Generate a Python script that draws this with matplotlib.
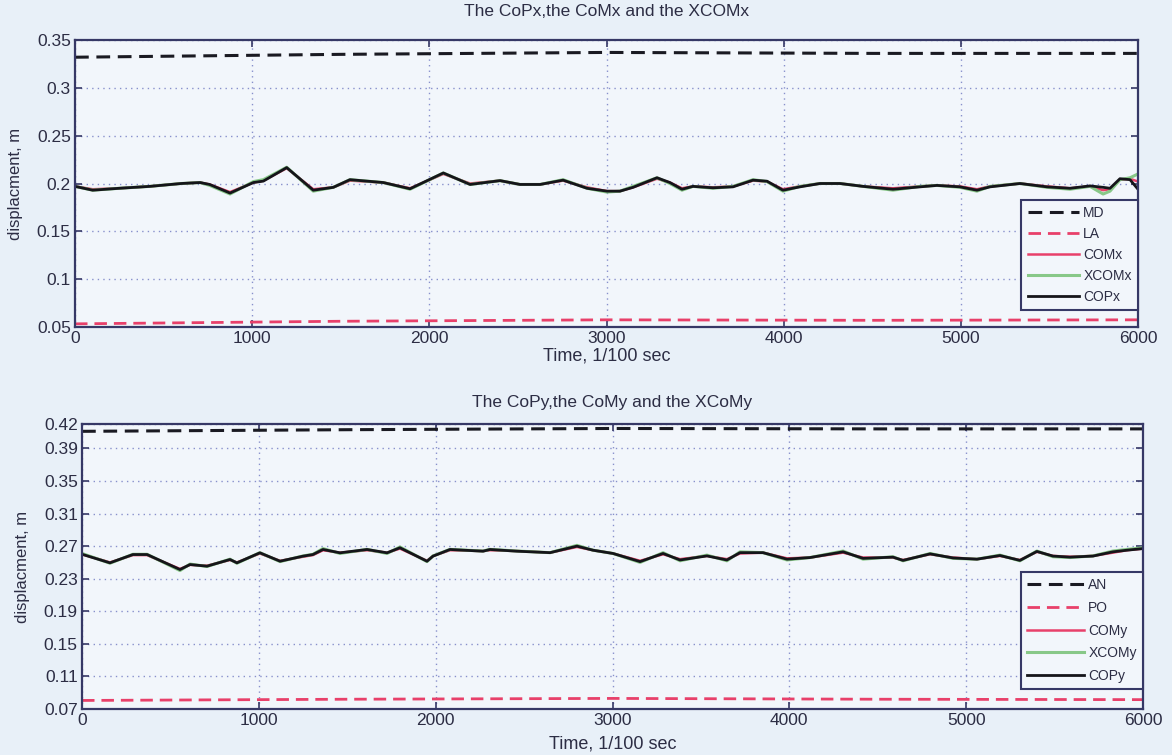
import matplotlib
matplotlib.use("Agg")
import matplotlib.pyplot as plt

# --- medio-lateral (x) ---
t_x = [0, 100, 250, 423, 600, 706, 760, 875, 1007, 1063, 1195, 1345, 1458, 1552,
       1740, 1891, 2079, 2230, 2399, 2512, 2625, 2755, 2890, 3003, 3076, 3150,
       3285, 3358, 3426, 3488, 3601, 3714, 3827, 3906, 3996, 4092, 4205, 4318,
       4448, 4617, 4770, 4865, 4995, 5091, 5165, 5334, 5486, 5616, 5729, 5803,
       5842, 5898, 5955, 6000]
cop_x = [0.197, 0.193, 0.195, 0.197, 0.200, 0.201, 0.199, 0.190, 0.201, 0.2025,
         0.2166, 0.193, 0.196, 0.204, 0.201, 0.1945, 0.211, 0.199, 0.203, 0.199,
         0.199, 0.2035, 0.195, 0.192, 0.192, 0.196, 0.206, 0.201, 0.194, 0.197,
         0.1955, 0.1965, 0.2035, 0.2024, 0.193, 0.1965, 0.200, 0.200, 0.197,
         0.194, 0.1965, 0.198, 0.1965, 0.193, 0.1965, 0.200, 0.1965, 0.195,
         0.1975, 0.196, 0.195, 0.205, 0.204, 0.194]
com_x = [0.197, 0.194, 0.195, 0.197, 0.200, 0.201, 0.199, 0.191, 0.201, 0.203,
         0.216, 0.194, 0.196, 0.203, 0.201, 0.195, 0.210, 0.200, 0.203, 0.199,
         0.199, 0.203, 0.196, 0.192, 0.192, 0.196, 0.205, 0.201, 0.195, 0.197,
         0.196, 0.197, 0.203, 0.202, 0.194, 0.197, 0.200, 0.200, 0.197,
         0.195, 0.197, 0.198, 0.197, 0.194, 0.197, 0.200, 0.197, 0.195,
         0.197, 0.193, 0.194, 0.204, 0.205, 0.202]
xcom_x = [0.197, 0.193, 0.195, 0.197, 0.200, 0.201, 0.198, 0.189, 0.202, 0.204,
          0.217, 0.192, 0.196, 0.204, 0.201, 0.194, 0.211, 0.199, 0.203, 0.199,
          0.199, 0.204, 0.195, 0.191, 0.192, 0.197, 0.206, 0.200, 0.193, 0.197,
          0.195, 0.197, 0.204, 0.202, 0.192, 0.197, 0.200, 0.200, 0.197,
          0.193, 0.197, 0.198, 0.196, 0.192, 0.197, 0.200, 0.196, 0.194,
          0.197, 0.189, 0.192, 0.204, 0.206, 0.210]
t_lim_x = [0, 1500, 3000, 4500, 6000]
md = [0.332, 0.335, 0.337, 0.336, 0.336]
la = [0.0533, 0.056, 0.0575, 0.057, 0.0575]

# --- antero-posterior (y) ---
t_y = [0, 158, 288, 368, 554, 611, 707, 837, 876, 1006, 1120, 1250, 1306, 1363,
       1459, 1612, 1725, 1798, 1951, 1985, 2081, 2268, 2307, 2460, 2647, 2799,
       2890, 3003, 3156, 3286, 3382, 3534, 3647, 3721, 3851, 3987, 4117, 4304,
       4417, 4586, 4643, 4796, 4926, 5061, 5191, 5304, 5400, 5491, 5587, 5717,
       5830, 5909, 6000]
cop_y = [0.260, 0.2495, 0.2597, 0.2597, 0.2413, 0.2474, 0.2454, 0.2536, 0.2495,
         0.2618, 0.2515, 0.2577, 0.2597, 0.2659, 0.2618, 0.2659, 0.2618, 0.268,
         0.2515, 0.2577, 0.2659, 0.2638, 0.2659, 0.2638, 0.262, 0.270, 0.265,
         0.261, 0.251, 0.261, 0.253, 0.258, 0.253, 0.262, 0.262, 0.254, 0.256,
         0.263, 0.255, 0.2565, 0.2525, 0.2605, 0.2555, 0.254, 0.2585, 0.2525,
         0.2635, 0.2578, 0.2565, 0.2578, 0.263, 0.265, 0.267]
com_y = [0.260, 0.250, 0.259, 0.259, 0.242, 0.247, 0.246, 0.253, 0.250,
         0.261, 0.252, 0.257, 0.259, 0.265, 0.262, 0.265, 0.262, 0.267,
         0.252, 0.258, 0.265, 0.264, 0.265, 0.264, 0.262, 0.269, 0.265,
         0.261, 0.252, 0.260, 0.254, 0.258, 0.254, 0.261, 0.262, 0.255, 0.256,
         0.262, 0.256, 0.256, 0.253, 0.260, 0.256, 0.254, 0.258, 0.253,
         0.263, 0.258, 0.257, 0.258, 0.262, 0.265, 0.267]
xcom_y = [0.261, 0.249, 0.260, 0.260, 0.240, 0.248, 0.245, 0.254, 0.249,
          0.262, 0.251, 0.258, 0.260, 0.267, 0.261, 0.266, 0.261, 0.269,
          0.251, 0.258, 0.266, 0.264, 0.266, 0.264, 0.262, 0.271, 0.265,
          0.261, 0.250, 0.262, 0.252, 0.259, 0.252, 0.263, 0.262, 0.253, 0.256,
          0.264, 0.254, 0.257, 0.252, 0.261, 0.255, 0.254, 0.259, 0.252,
          0.264, 0.257, 0.256, 0.258, 0.264, 0.266, 0.268]
t_lim_y = [0, 1500, 3000, 4500, 6000]
an = [0.411, 0.413, 0.4145, 0.414, 0.414]
po = [0.0805, 0.082, 0.083, 0.082, 0.0815]

xticks = [0, 1000, 2000, 3000, 4000, 5000, 6000]
yticks_x = [0.05, 0.1, 0.15, 0.2, 0.25, 0.3, 0.35]
yticks_y = [0.07, 0.11, 0.15, 0.19, 0.23, 0.27, 0.31, 0.35, 0.39, 0.42]

plt.rcParams['font.family'] = ['Liberation Sans', 'DejaVu Sans']

fondo = '#e8f0f8'
marco = '#363866'
texto = '#2c2d44'
rojo = '#e8406a'
verde = '#88c888'


def panel(ax, t, cop, com, xcom, t_lim, sup, inf, nombres, titulo, yticks, ylim,
          pad_titulo, pad_x, hlen, lsp, leg_y):
    ax.set_facecolor('#f2f6fb')
    ax.plot(t_lim, sup, color='#1a1a22', lw=2.2, ls=(0, (4.5, 2.5)), label=nombres[0])
    ax.plot(t_lim, inf, color=rojo, lw=2.0, ls=(0, (4.5, 2.5)), label=nombres[1])
    ax.plot(t, com, color=rojo, lw=1.8, label=nombres[2])
    ax.plot(t, xcom, color=verde, lw=2.2, label=nombres[3])
    ax.plot(t, cop, color='#15151a', lw=2.0, label=nombres[4])
    ax.set_xlim(0, 6000)
    ax.set_ylim(*ylim)
    ax.set_xticks(xticks)
    ax.set_yticks(yticks)
    ax.set_yticklabels([('%g' % v) for v in yticks])
    ax.grid(True, ls=(0, (1, 3)), color='#8890cc', lw=1.0)
    ax.tick_params(direction='in', length=5, width=1.2, colors=marco,
                   labelcolor=texto, labelsize=12.5, top=True, right=True, pad=3)
    for s in ax.spines.values():
        s.set_color(marco)
        s.set_linewidth(1.6)
    ax.set_title(titulo, fontsize=12.5, color=texto, pad=pad_titulo)
    ax.set_xlabel('Time, 1/100 sec', fontsize=13, color=texto, labelpad=pad_x)
    ax.set_ylabel('displacment, m', fontsize=12, color=texto, labelpad=10)
    leg = ax.legend(loc='lower right', bbox_to_anchor=(1.0, leg_y), borderaxespad=0,
                    fancybox=False, fontsize=10, handlelength=hlen, labelspacing=lsp,
                    handletextpad=0.3, borderpad=0.45, framealpha=1)
    leg.get_frame().set_edgecolor(marco)
    leg.get_frame().set_linewidth(1.5)
    leg.get_frame().set_facecolor('#f2f6fb')
    for txt in leg.get_texts():
        txt.set_color(texto)


fig = plt.figure(figsize=(11.72, 7.55), dpi=100, facecolor=fondo)
ax1 = fig.add_axes([75 / 1172, 1 - 327 / 755, 1063 / 1172, 287 / 755])
ax2 = fig.add_axes([82 / 1172, 1 - 709 / 755, 1061 / 1172, 285 / 755])

panel(ax1, t_x, cop_x, com_x, xcom_x, t_lim_x, md, la,
      ['MD', 'LA', 'COMx', 'XCOMx', 'COPx'],
      'The CoPx,the CoMx and the XCOMx', yticks_x, (0.05, 0.35),
      pad_titulo=17, pad_x=1, hlen=3.7, lsp=0.5, leg_y=0.06)
panel(ax2, t_y, cop_y, com_y, xcom_y, t_lim_y, an, po,
      ['AN', 'PO', 'COMy', 'XCOMy', 'COPy'],
      'The CoPy,the CoMy and the XCoMy', yticks_y, (0.07, 0.42),
      pad_titulo=12, pad_x=5, hlen=4.1, lsp=0.62, leg_y=0.07)

fig.savefig('out.png', dpi=100, facecolor=fondo)
